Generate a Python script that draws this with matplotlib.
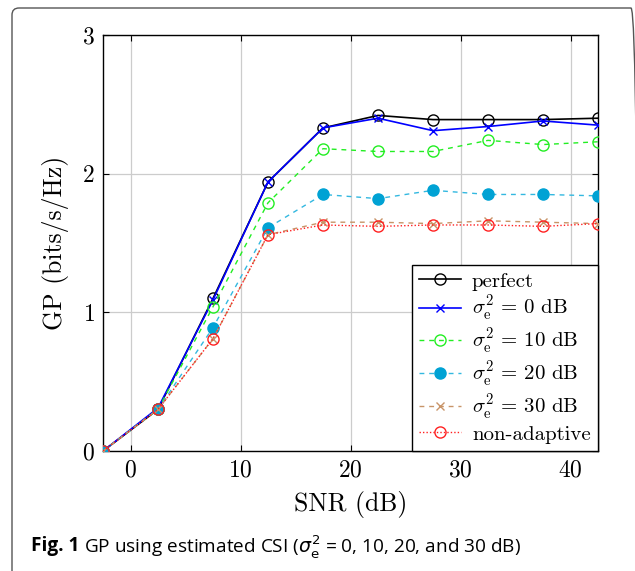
import matplotlib
matplotlib.use("Agg")
import matplotlib.pyplot as plt
from matplotlib.patches import FancyBboxPatch
from matplotlib.transforms import Affine2D

plt.rcParams['font.family'] = 'serif'
plt.rcParams['font.serif'] = ['cmr10']
plt.rcParams['mathtext.fontset'] = 'cm'
plt.rcParams['axes.formatter.use_mathtext'] = True

# SNR points (dB)
snr = [-2.5, 2.5, 7.5, 12.5, 17.5, 22.5, 27.5, 32.5, 37.5, 42.5]

gp_perfect = [0, 0.30, 1.10, 1.94, 2.33, 2.42, 2.39, 2.39, 2.39, 2.40]
gp_0db = [0, 0.31, 1.09, 1.94, 2.33, 2.40, 2.31, 2.34, 2.38, 2.35]
gp_10db = [0, 0.30, 1.04, 1.79, 2.18, 2.16, 2.16, 2.24, 2.21, 2.23]
gp_20db = [0, 0.30, 0.89, 1.61, 1.85, 1.82, 1.88, 1.85, 1.85, 1.84]
gp_30db = [0, 0.30, 0.81, 1.56, 1.65, 1.65, 1.64, 1.66, 1.65, 1.64]
gp_nonadapt = [0, 0.30, 0.81, 1.56, 1.63, 1.62, 1.63, 1.63, 1.62, 1.64]

labels = ['perfect',
          r'$\sigma_{\rm e}^2\, =\, 0$ dB',
          r'$\sigma_{\rm e}^2\, =\, 10$ dB',
          r'$\sigma_{\rm e}^2\, =\, 20$ dB',
          r'$\sigma_{\rm e}^2\, =\, 30$ dB',
          'non-adaptive']

W, H = 635, 571
fig = plt.figure(figsize=(W / 100, H / 100), dpi=100)
ax = fig.add_axes([103 / W, 1 - 451 / H, (598 - 103) / W, (451 - 35) / H])

dash = (0, (3.5, 3.5))
ax.plot(snr, gp_perfect, color='black', lw=1.2, marker='o', ms=8,
        mfc='none', mec='black', mew=1.0, label=labels[0], zorder=3)
ax.plot(snr, gp_0db, color='#0000ff', lw=1.2, marker='x', ms=6,
        mew=1.0, label=labels[1], zorder=3)
ax.plot(snr, gp_10db, color='#22ee22', lw=1.0, ls=dash, marker='o', ms=8,
        mfc='none', mec='#22ee22', mew=1.0, label=labels[2], zorder=3)
ax.plot(snr, gp_20db, color='#33b8e0', lw=1.0, ls=dash, marker='o', ms=8,
        mfc='#00a2d4', mec='#00a2d4', label=labels[3], zorder=3)
ax.plot(snr, gp_30db, color='#c89468', lw=1.0, ls=dash, marker='x', ms=6,
        mew=1.0, label=labels[4], zorder=3)
ax.plot(snr, gp_nonadapt, color='#ff2020', lw=1.0, ls=(0, (1, 1.5)), marker='o', ms=8,
        mfc='none', mec='#ff2020', mew=1.0, label=labels[5], zorder=3)

ax.set_xlim(-2.5, 42.5)
ax.set_ylim(0, 3)
ax.set_xticks([0, 10, 20, 30, 40])
ax.set_yticks([0, 1, 2, 3])
ax.grid(True, color='#cccccc', lw=0.9)
ax.set_axisbelow(True)
ax.tick_params(direction='in', length=4, width=0.8, labelsize=17,
               top=True, right=True, pad=6)
for sp in ax.spines.values():
    sp.set_linewidth(1.0)

ax.set_xlabel('SNR (dB)', fontsize=18.5, labelpad=7)
ax.set_ylabel('GP (bits/s/Hz)', fontsize=18.5, labelpad=9)

leg = ax.legend(loc='lower right', borderaxespad=0, fontsize=15,
                fancybox=False, framealpha=1, edgecolor='black',
                handlelength=2.0, handletextpad=0.55, labelspacing=0.16,
                borderpad=0.35)
leg.get_frame().set_linewidth(1.0)

# caption: bold label followed by plain text
cap_y = 1 - 546 / H
t1 = fig.text(31 / W, cap_y, 'Fig. 1', fontsize=13.7, fontweight='bold',
              family='Open Sans', va='center', ha='left')
fig.canvas.draw()
bb = t1.get_window_extent()
fig.text((bb.x1 + 5) / W, cap_y,
         r'GP using estimated CSI ($\sigma_{\rm e}^2$ = 0, 10, 20, and 30 dB)',
         fontsize=13.7, family='Open Sans', math_fontfamily='dejavusans',
         va='center', ha='left')

# rounded page frame
px = Affine2D().scale(1 / W, 1 / H) + fig.transFigure
frame = FancyBboxPatch((12, -30), 626, 571 - 8 + 30,
                       boxstyle='round,pad=0,rounding_size=7',
                       transform=px, fill=False, ec='#555555', lw=1.0)
fig.patches.append(frame)

fig.savefig('out.png', dpi=100)
